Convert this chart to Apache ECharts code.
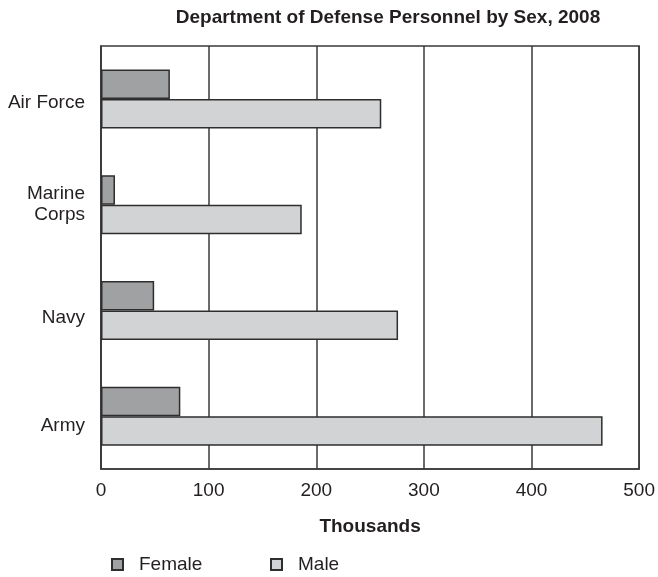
<!DOCTYPE html>
<html>
<head>
<meta charset="utf-8">
<script src="https://cdn.jsdelivr.net/npm/echarts@6/dist/echarts.min.js"></script>
<style>html,body{margin:0;padding:0;background:#fff}#c{width:658px;height:577px}</style>
</head>
<body>
<div id="c"></div>
<script>
var categories = ['Army', 'Navy', 'Marine Corps', 'Air Force'];
var femaleValues = [73.7, 49.4, 13, 64];
var maleValues = [466, 276, 186.5, 260.4];
var xTicks = [0, 100, 200, 300, 400, 500];

var chart = echarts.init(document.getElementById('c'), null, {renderer: 'canvas'});
var FONT = 'Liberation Sans, Arial, Helvetica, sans-serif';
var labelShift = {'Army': 20, 'Navy': 14, 'Marine Corps': 0, 'Air Force': 8};
chart.setOption({
  animation: false,
  backgroundColor: '#ffffff',
  title: {
    text: 'Department of Defense Personnel by Sex, 2008',
    left: 383, top: 3, textAlign: 'center',
    textStyle: {fontFamily: FONT, fontSize: 19, fontWeight: 'bold', color: '#231f20'}
  },
  legend: [
    {data: ['Female'], left: 111, top: 555, padding: 0, itemWidth: 11, itemHeight: 11,
     icon: 'rect', textStyle: {fontFamily: FONT, fontSize: 19, color: '#231f20', padding: [0, 0, 0, 11]}},
    {data: ['Male'], left: 270, top: 555, padding: 0, itemWidth: 11, itemHeight: 11,
     icon: 'rect', textStyle: {fontFamily: FONT, fontSize: 19, color: '#231f20', padding: [0, 0, 0, 11]}}
  ],
  grid: {left: 101, right: 18, top: 46, bottom: 108, show: true, borderColor: '#3a3a3a', borderWidth: 1.5, backgroundColor: 'transparent'},
  xAxis: {
    type: 'value', min: 0, max: 500, interval: 100,
    name: 'Thousands', nameLocation: 'middle', nameGap: 48,
    nameTextStyle: {fontFamily: FONT, fontSize: 19, fontWeight: 'bold', color: '#231f20'},
    axisLine: {show: true, lineStyle: {color: '#3a3a3a', width: 1.5}},
    axisTick: {show: false},
    axisLabel: {margin: 12, fontFamily: FONT, fontSize: 19, color: '#231f20',
      formatter: function (v) { return xTicks.indexOf(v) >= 0 ? String(v) : ''; }},
    splitLine: {show: true, lineStyle: {color: '#3a3a3a', width: 1.5}}
  },
  yAxis: {
    type: 'category', data: categories,
    axisLine: {show: true, lineStyle: {color: '#3a3a3a', width: 1.5}},
    axisTick: {show: false},
    splitLine: {show: false},
    axisLabel: {
      margin: 16, fontFamily: FONT, fontSize: 19, color: '#231f20', lineHeight: 21, align: 'right',
      formatter: function (v) {
        if (v === 'Marine Corps') return '{m|Marine}\n{m|Corps}';
        return '{s' + labelShift[v] + '|' + v + '}';
      },
      rich: {
        m: {fontFamily: FONT, fontSize: 19, color: '#231f20', lineHeight: 21, align: 'right'},
        s20: {fontFamily: FONT, fontSize: 19, color: '#231f20', padding: [20, 0, 0, 0], align: 'right'},
        s14: {fontFamily: FONT, fontSize: 19, color: '#231f20', padding: [14, 0, 0, 0], align: 'right'},
        s8: {fontFamily: FONT, fontSize: 19, color: '#231f20', padding: [8, 0, 0, 0], align: 'right'}
      }
    }
  },
  series: [
    {name: 'Female', type: 'bar', data: femaleValues, barWidth: 29.5, barGap: '0%',
     itemStyle: {color: '#a0a1a3', borderColor: '#2e2e2e', borderWidth: 1.5}},
    {name: 'Male', type: 'bar', data: maleValues, barWidth: 29.5, barGap: '0%',
     itemStyle: {color: '#d2d3d5', borderColor: '#2e2e2e', borderWidth: 1.5}}
  ]
});
</script>
</body>
</html>
